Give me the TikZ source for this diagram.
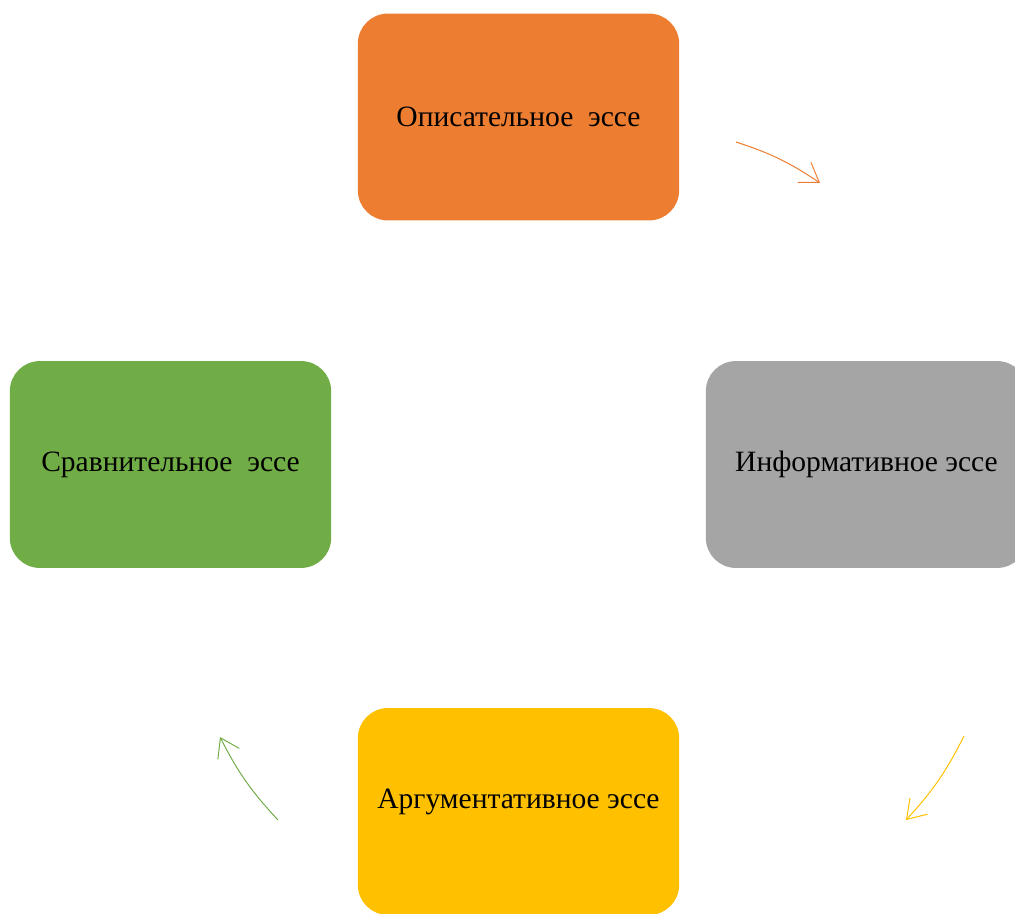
\documentclass[tikz,border=0pt]{standalone}
\usepackage{fontspec}
\setmainfont{Liberation Serif}
\usetikzlibrary{arrows.meta}

\definecolor{essorange}{HTML}{ED7D31}
\definecolor{essgray}{HTML}{A5A5A5}
\definecolor{essyellow}{HTML}{FFC000}
\definecolor{essgreen}{HTML}{70AD47}

\begin{document}
\begin{tikzpicture}[
  x=0.025cm,y=0.025cm,
  >={Straight Barb[length=0.45cm,width=0.6cm]},
  essaybox/.style={rectangle,rounded corners=0.75cm,minimum width=8.03cm,minimum height=5.17cm,inner sep=0pt,font=\fontsize{21}{24}\selectfont},
  cyclearrow/.style={->,line width=0.7pt,bend left=8}
]

\useasboundingbox (0,0) rectangle (1015,-914);

\node[essaybox,fill=essorange] (desc) at (518.5,-117) {Описательное\ \ эссе};
\node[essaybox,fill=essgray] (info) at (866.5,-464.5) {Информативное эссе};
\node[essaybox,fill=essyellow,text depth=0.65cm] (arg) at (518.5,-811.5) {Аргументативное эссе};
\node[essaybox,fill=essgreen] (comp) at (170.5,-464.5) {Сравнительное\ \ эссе};

\coordinate (o1) at (736,-142);
\coordinate (o2) at (820,-183);
\coordinate (y1) at (964,-736);
\coordinate (y2) at (906,-820);
\coordinate (g1) at (278,-820);
\coordinate (g2) at (220,-737);

\draw[cyclearrow,essorange] (o1) to (o2);
\draw[cyclearrow,essyellow] (y1) to (y2);
\draw[cyclearrow,essgreen] (g1) to (g2);

\end{tikzpicture}
\end{document}
